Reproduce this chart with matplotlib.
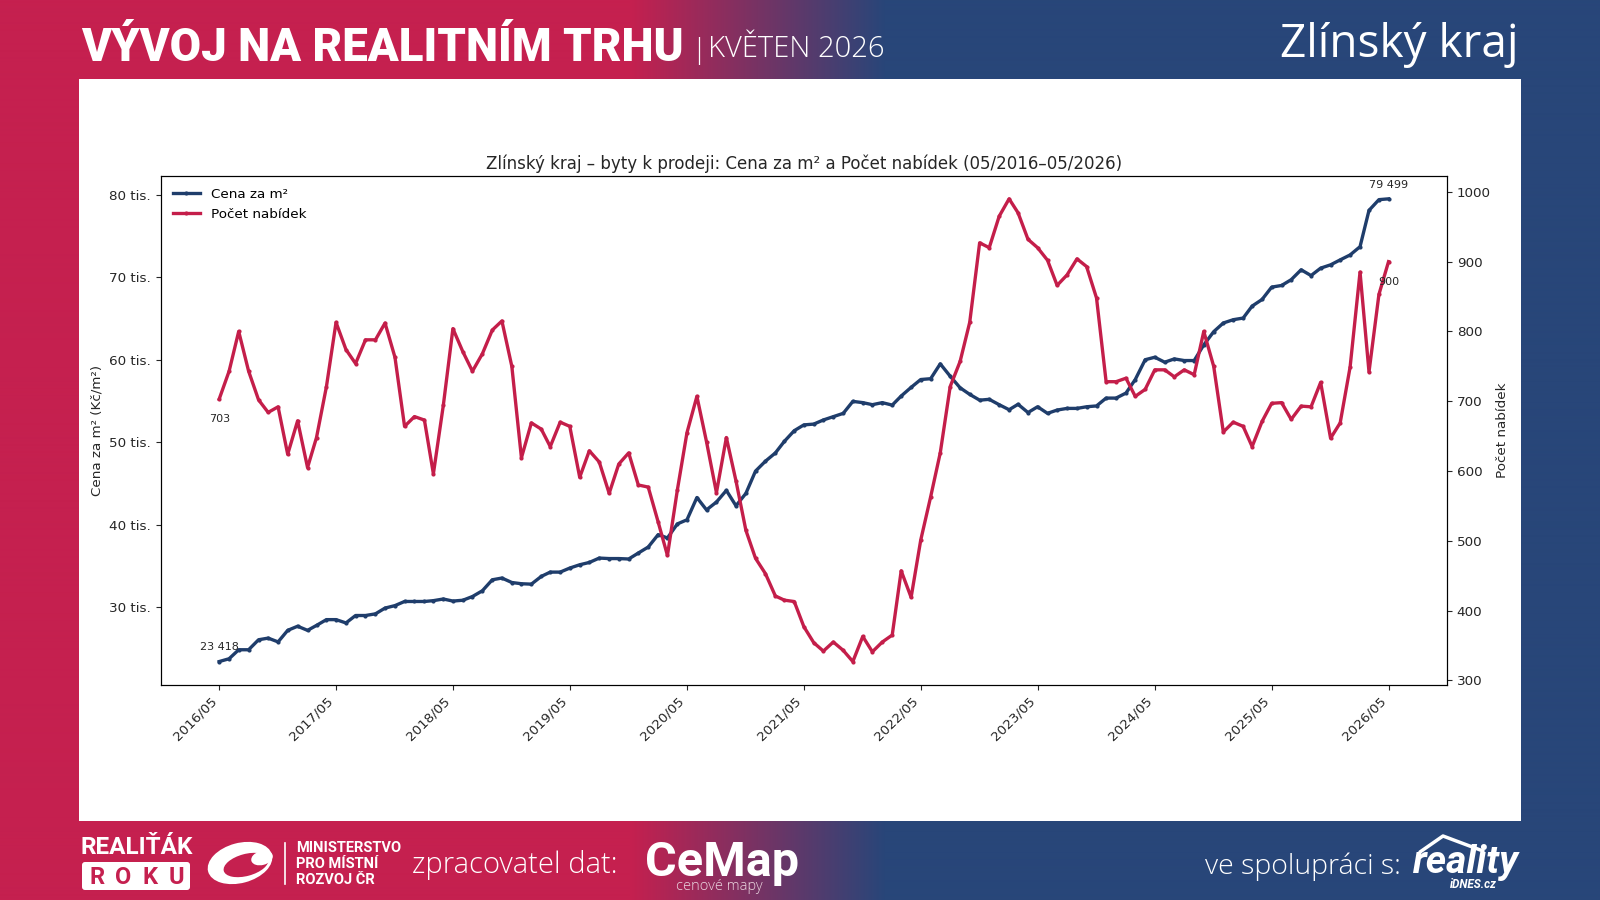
import numpy as np
import pandas as pd
import matplotlib
matplotlib.use("Agg")
import matplotlib.pyplot as plt
import matplotlib.dates as mdates
import matplotlib.colors as mcolors
from matplotlib.ticker import FuncFormatter, FixedLocator
from matplotlib.patches import Rectangle, FancyBboxPatch, Ellipse

# ---------------- data ----------------
start_month = "2016-05-01"
price = [23418, 23760, 24850, 24850, 26060, 26260, 25800, 27200, 27700, 27200,
         27800, 28500, 28500, 28100, 29000, 29000, 29200, 29900, 30200, 30700,
         30700, 30700, 30800, 31000, 30750, 30850, 31300, 32000, 33330, 33540,
         33000, 32850, 32800, 33740, 34260, 34260, 34750, 35150, 35430, 35960,
         35900, 35900, 35850, 36570, 37300, 38800, 38400, 40100, 40600, 43300,
         41800, 42750, 44160, 42300, 43800, 46500, 47700, 48700, 50100, 51400,
         52100, 52200, 52700, 53100, 53500, 54950, 54800, 54550, 54800, 54500,
         55600, 56650, 57600, 57700, 59500, 58000, 56600, 55800, 55100, 55200,
         54550, 53940, 54600, 53600, 54300, 53500, 53900, 54100, 54100, 54300,
         54400, 55350, 55350, 55960, 57600, 60000, 60300, 59700, 60100, 59900,
         59900, 61800, 63400, 64450, 64850, 65050, 66500, 67300, 68800, 69000,
         69700, 70900, 70200, 71100, 71500, 72100, 72700, 73700, 78100, 79400,
         79499]
offers = [703, 743, 800, 743, 702, 684, 692, 624, 672, 605,
          648, 721, 813, 774, 754, 788, 788, 812, 763, 664,
          678, 673, 596, 694, 804, 771, 743, 768, 802, 815,
          750, 619, 669, 660, 635, 670, 664, 591, 629, 613,
          568, 610, 626, 580, 577, 527, 479, 573, 655, 707,
          642, 569, 648, 586, 515, 475, 453, 421, 415, 413,
          377, 354, 342, 355, 343, 327, 363, 341, 355, 365,
          457, 419, 501, 563, 626, 721, 757, 813, 927, 920,
          965, 990, 970, 932, 920, 902, 866, 881, 904, 893,
          848, 728, 728, 733, 707, 717, 745, 745, 735, 745,
          738, 800, 750, 656, 670, 664, 635, 671, 697, 698,
          674, 693, 692, 727, 647, 669, 749, 885, 742, 853,
          900]
price_ticks = [30000, 40000, 50000, 60000, 70000, 80000]
offer_ticks = [300, 400, 500, 600, 700, 800, 900, 1000]

months = pd.date_range(start_month, periods=len(price), freq="MS")

# ---------------- style ----------------
W, H = 1600, 900
CRIMSON = "#C5204F"
NAVY = "#284679"
LINE_NAVY = "#1F3D6B"
LINE_RED = "#C41E4A"
TXT = "#262626"

def fx(x):
    return x / W

def fy(y):
    return 1 - y / H

fig = plt.figure(figsize=(16, 9), dpi=100)

# background with horizontal gradient
bg = fig.add_axes([0, 0, 1, 1])
bg.set_axis_off()
xs = np.arange(W)
t = np.clip((xs - 630) / (885 - 630), 0, 1)
c1 = np.array(mcolors.to_rgb(CRIMSON))
c2 = np.array(mcolors.to_rgb(NAVY))
row = c1[None, :] * (1 - t[:, None]) + c2[None, :] * t[:, None]
img = np.repeat(row[None, :, :], 2, axis=0)
bg.imshow(img, extent=[0, W, H, 0], aspect="auto", interpolation="bilinear")
bg.set_xlim(0, W)
bg.set_ylim(H, 0)
bg.add_patch(Rectangle((78.6, 78.6), 1442.8, 742.8, facecolor="white",
                       edgecolor="none", zorder=2))

# ---------------- header ----------------
fig.text(fx(81), fy(61), "VÝVOJ NA REALITNÍM TRHU", color="white",
         fontsize=32.8, fontweight="black", family=["Roboto", "DejaVu Sans"],
         ha="left", va="baseline")
fig.text(fx(691), fy(58), "|", color="white", fontsize=20, fontweight="light",
         family=["Open Sans", "DejaVu Sans"], ha="left", va="baseline")
fig.text(fx(708), fy(57), "KVĚTEN 2026", color="white", fontsize=21,
         fontweight="light", family=["Open Sans", "DejaVu Sans"],
         ha="left", va="baseline")
fig.text(fx(1519), fy(57), "Zlínský kraj", color="white", fontsize=33,
         family=["Open Sans", "DejaVu Sans"], ha="right", va="baseline")

# ---------------- footer ----------------
fig.text(fx(80), fy(854), "REALIŤÁK", color="white", fontsize=17.5,
         fontweight="bold", family=["Roboto", "DejaVu Sans"],
         ha="left", va="baseline")
bg.add_patch(FancyBboxPatch((82, 862), 108, 28,
                            boxstyle="round,pad=0,rounding_size=3",
                            facecolor="white", edgecolor="none", zorder=3))
for lx, ch in zip([97, 123, 150, 176], "ROKU"):
    fig.text(fx(lx), fy(884), ch, color=CRIMSON, fontsize=17,
             fontweight="bold", family=["Roboto", "DejaVu Sans"],
             ha="center", va="baseline")
# stylised ministry logo
bg.add_patch(Ellipse((240, 863), 66, 40, angle=-15, facecolor="white",
                     edgecolor="none", zorder=3))
bg.add_patch(Ellipse((246, 865), 46, 22, angle=-15, facecolor=CRIMSON,
                     edgecolor="none", zorder=4))
bg.add_patch(Ellipse((262, 858), 22, 14, angle=-15, facecolor="white",
                     edgecolor="none", zorder=5))
bg.plot([285, 285], [843, 884], color="white", lw=1.2, zorder=3)
for ly, txt in zip([852, 868, 884], ["MINISTERSTVO", "PRO MÍSTNÍ", "ROZVOJ ČR"]):
    fig.text(fx(296), fy(ly), txt, color="white", fontsize=10.5,
             fontweight="bold", family=["Roboto", "DejaVu Sans"],
             ha="left", va="baseline")
fig.text(fx(412), fy(873), "zpracovatel dat:", color="white", fontsize=21,
         fontweight="light", family=["Open Sans", "DejaVu Sans"],
         ha="left", va="baseline")
fig.text(fx(645), fy(876), "CeMap", color="white", fontsize=35,
         fontweight="bold", family=["Roboto", "DejaVu Sans"],
         ha="left", va="baseline")
fig.text(fx(719), fy(890), "cenové mapy", color="#EBD6E0", fontsize=10.5,
         fontweight="light", family=["Open Sans", "DejaVu Sans"],
         ha="center", va="baseline")
fig.text(fx(1401), fy(874), "ve spolupráci s:", color="white", fontsize=20.5,
         fontweight="light", family=["Open Sans", "DejaVu Sans"],
         ha="right", va="baseline")
fig.text(fx(1413), fy(873), "reality", color="white", fontsize=28,
         fontweight="bold", style="italic", family=["Roboto", "DejaVu Sans"],
         ha="left", va="baseline")
fig.text(fx(1497), fy(888), "iDNES.cz", color="white", fontsize=8.5,
         fontweight="bold", style="italic", family=["Roboto", "DejaVu Sans"],
         ha="right", va="baseline")
bg.plot([1420, 1443, 1483], [852, 836, 851], color="white", lw=2.5,
        solid_capstyle="round", zorder=3)

# ---------------- chart ----------------
ax = fig.add_axes([160.7 / W, 1 - 684.7 / H, (1447 - 160.7) / W,
                   (684.7 - 175.7) / H])
ax.set_zorder(5)
l1, = ax.plot(months, price, color=LINE_NAVY, lw=2.4, marker="o", ms=2.0,
              label="Cena za m²")
ax2 = ax.twinx()
l2, = ax2.plot(months, offers, color=LINE_RED, lw=2.4, marker="o", ms=2.0,
               label="Počet nabídek")

FS = 9.7
ax.yaxis.set_major_locator(FixedLocator(price_ticks))
ax.yaxis.set_major_formatter(FuncFormatter(lambda v, p: f"{int(round(v / 1000))} tis."))
ax2.yaxis.set_major_locator(FixedLocator(offer_ticks))
ax.xaxis.set_major_locator(mdates.MonthLocator(bymonth=5))
ax.xaxis.set_major_formatter(mdates.DateFormatter("%Y/%m"))
for lab in ax.get_xticklabels():
    lab.set_rotation(45)
    lab.set_ha("right")
ax.tick_params(axis="both", labelsize=FS, colors=TXT)
ax2.tick_params(axis="y", labelsize=FS, colors=TXT)
ax.set_ylabel("Cena za m² (Kč/m²)", fontsize=FS, color=TXT)
ax2.set_ylabel("Počet nabídek", fontsize=FS, color=TXT)
ax.set_title("Zlínský kraj – byty k prodeji: Cena za m² a Počet nabídek (05/2016–05/2026)",
             fontsize=12, color=TXT, pad=5)

ax2.legend(handles=[l1, l2], loc="upper left", frameon=False, fontsize=FS)

def fmt_num(v):
    return f"{v:,}".replace(",", " ")

ax.annotate(fmt_num(price[0]), (months[0], price[0]), xytext=(0, 10.5),
            textcoords="offset points", ha="center", va="center",
            fontsize=8, color=TXT)
ax.annotate(fmt_num(price[-1]), (months[-1], price[-1]), xytext=(0, 10),
            textcoords="offset points", ha="center", va="center",
            fontsize=8, color=TXT)
ax2.annotate(fmt_num(offers[0]), (months[0], offers[0]), xytext=(0, -14.5),
             textcoords="offset points", ha="center", va="center",
             fontsize=8, color=TXT)
ax2.annotate(fmt_num(offers[-1]), (months[-1], offers[-1]), xytext=(0, -15),
             textcoords="offset points", ha="center", va="center",
             fontsize=8, color=TXT)

fig.savefig("out.png", dpi=100)
